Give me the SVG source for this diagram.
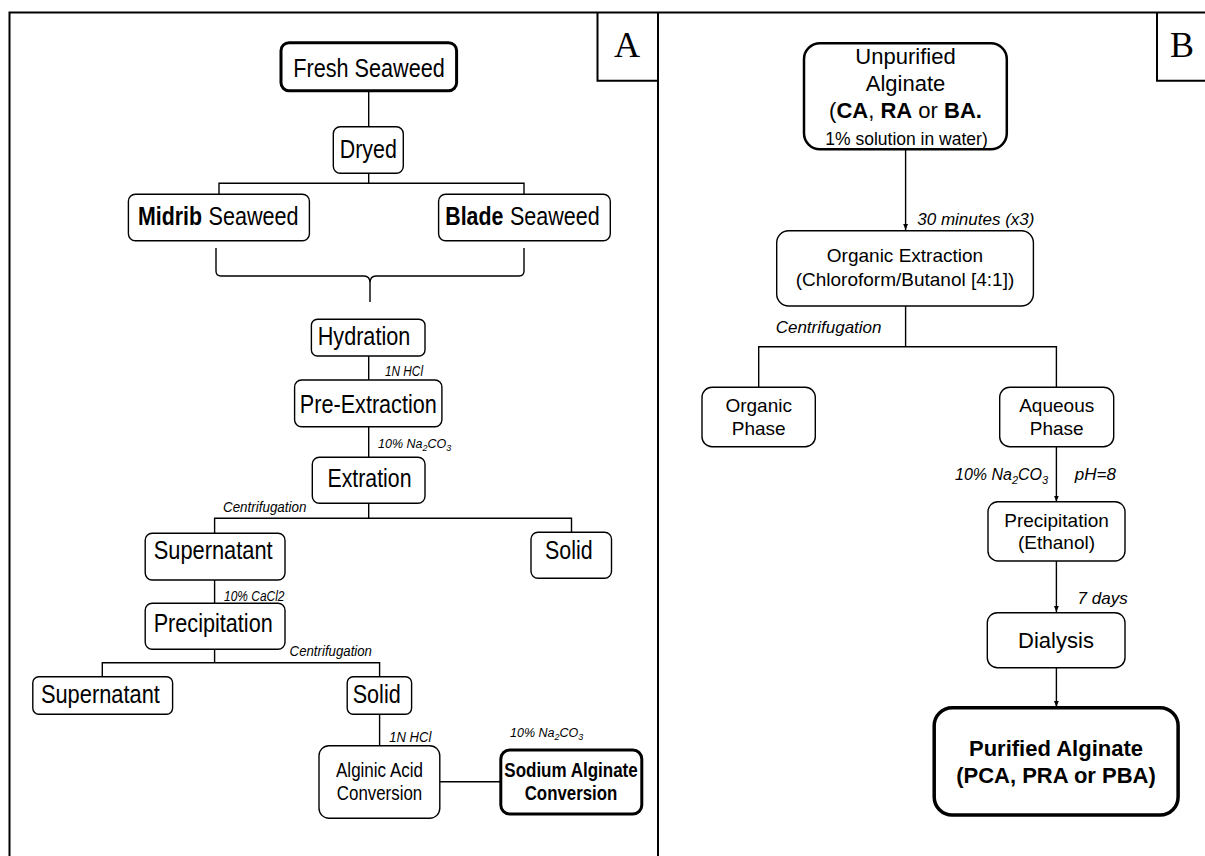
<svg xmlns="http://www.w3.org/2000/svg" width="1205" height="856" viewBox="0 0 1205 856">
<defs>
<marker id="arr" viewBox="0 0 10 10" refX="10" refY="5" markerWidth="6" markerHeight="6" markerUnits="userSpaceOnUse" orient="auto"><path d="M0,1 L10,5 L0,9 z" fill="#000"/></marker>
</defs>
<style>
.box{fill:#fff;stroke:#000;stroke-width:1.4}
.thick{stroke-width:3}
.ln{fill:none;stroke:#000;stroke-width:1.4}
.frame{fill:none;stroke:#000;stroke-width:2}
.ta{font-family:"Liberation Sans Narrow","Liberation Sans",Arial,sans-serif;font-size:26px;text-anchor:middle;fill:#000}
.st{text-anchor:start}
.tas{font-family:"Liberation Sans Narrow","Liberation Sans",Arial,sans-serif;font-size:20.5px;text-anchor:middle;fill:#000}
.la{font-family:"Liberation Sans Narrow","Liberation Sans",Arial,sans-serif;font-size:15px;font-style:italic;fill:#000}
.las{font-size:12.5px}
.tb{font-family:"Liberation Sans",Arial,sans-serif;font-size:19px;text-anchor:middle;fill:#000}
.big{font-size:22px}
.sm{font-size:17.5px}
.lb{font-family:"Liberation Sans",Arial,sans-serif;font-size:17px;font-style:italic;fill:#000}
.lbs{font-size:16px}
.bold{font-weight:bold}
.tag{font-family:"Liberation Serif","Times New Roman",serif;font-size:36px;text-anchor:middle;fill:#000}
</style>
<rect width="1205" height="856" fill="#fff"/>
<g id="frame">
<path class="frame" d="M9.5,856 V12.5 H1205"/>
<path class="frame" d="M658,12.5 V856"/>
<path class="frame" d="M597.5,12.5 V80.7 H658"/>
<path class="frame" d="M1157,12.5 V80.7 H1205"/>
<text class="tag" x="627" y="57">A</text>
<text class="tag" x="1182" y="57">B</text>
</g>
<g id="connectors">
<path class="ln" d="M368.7,90.7 V126.7"/>
<path class="ln" d="M368.7,173.3 V183.3 M219,194.3 V183.3 H524 V194.3"/>
<path class="ln" d="M216,248 V271 Q216,276 221,276 H364 Q370,276 370,283 Q370,276 376,276 H519 Q524,276 524,271 V248 M370,283 V302"/>
<path class="ln" d="M368.7,356 V380"/>
<path class="ln" d="M368.7,426.7 V457.3"/>
<path class="ln" d="M368.7,503.3 V518.3 M214.6,533.3 V518.3 H571.5 V532.3"/>
<path class="ln" d="M214.6,580 V603.3"/>
<path class="ln" d="M214.6,649.3 V662.7 M102.3,676.7 V662.7 H379.6 V676.7"/>
<path class="ln" d="M379.6,714.3 V745.7"/>
<path class="ln" d="M439.8,781.7 H500.8"/>
<path class="ln" d="M905.6,149.3 V230" marker-end="url(#arr)"/>
<path class="ln" d="M905.6,306 V346.7 M758.7,387.3 V346.7 H1056.4 V387.3"/>
<path class="ln" d="M1056.4,446.7 V501.7" marker-end="url(#arr)"/>
<path class="ln" d="M1056.4,561 V612" marker-end="url(#arr)"/>
<path class="ln" d="M1056.4,667.7 V707" marker-end="url(#arr)"/>
</g>
<g id="labels">
<text class="la" x="385" y="376" textLength="38" lengthAdjust="spacingAndGlyphs">1N HCl</text>
<text class="la las" x="378" y="448">10% Na<tspan font-size="9" dy="3">2</tspan><tspan dy="-3">CO</tspan><tspan font-size="9" dy="3">3</tspan></text>
<text class="la" x="223" y="511.7" textLength="83.4" lengthAdjust="spacingAndGlyphs">Centrifugation</text>
<text class="la" x="224" y="600.7" textLength="60.5" lengthAdjust="spacingAndGlyphs">10% CaCl2</text>
<text class="la" x="289.6" y="656" textLength="82.4" lengthAdjust="spacingAndGlyphs">Centrifugation</text>
<text class="la" x="389.3" y="741.7" textLength="42" lengthAdjust="spacingAndGlyphs">1N HCl</text>
<text class="la las" x="510" y="736.7">10% Na<tspan font-size="9" dy="3">2</tspan><tspan dy="-3">CO</tspan><tspan font-size="9" dy="3">3</tspan></text>
<text class="lb" x="917.3" y="225">30 minutes (x3)</text>
<text class="lb" x="775.7" y="333.3">Centrifugation</text>
<text class="lb lbs" x="955" y="480">10% Na<tspan font-size="11" dy="4">2</tspan><tspan dy="-4">CO</tspan><tspan font-size="11" dy="4">3</tspan></text>
<text class="lb" x="1074.8" y="480">pH=8</text>
<text class="lb" x="1077.6" y="604">7 days</text>
</g>
<g id="n-fresh"><rect class="box thick" x="281" y="42.7" width="175.6" height="48" rx="8"/><text class="ta" x="369" y="77" textLength="151.5" lengthAdjust="spacingAndGlyphs">Fresh Seaweed</text></g>
<g id="n-dryed"><rect class="box" x="333.3" y="126.7" width="70" height="46.6" rx="7"/><text class="ta" x="368.3" y="158" textLength="57" lengthAdjust="spacingAndGlyphs">Dryed</text></g>
<g id="n-midrib"><rect class="box" x="128.4" y="194.3" width="181" height="46.4" rx="7"/><text class="ta st bold" x="138" y="225" textLength="64" lengthAdjust="spacingAndGlyphs">Midrib</text><text class="ta st" x="208.5" y="225" textLength="90" lengthAdjust="spacingAndGlyphs">Seaweed</text></g>
<g id="n-blade"><rect class="box" x="438.6" y="194.3" width="171.7" height="46.4" rx="7"/><text class="ta st bold" x="445.3" y="225" textLength="58" lengthAdjust="spacingAndGlyphs">Blade</text><text class="ta st" x="510" y="225" textLength="89.7" lengthAdjust="spacingAndGlyphs">Seaweed</text></g>
<g id="n-hydration"><rect class="box" x="311.4" y="319.3" width="113.6" height="36.7" rx="6"/><text class="ta" x="364" y="345" textLength="92.6" lengthAdjust="spacingAndGlyphs">Hydration</text></g>
<g id="n-preext"><rect class="box" x="294.6" y="380" width="147.3" height="46.7" rx="7"/><text class="ta" x="368.3" y="413.3" textLength="137" lengthAdjust="spacingAndGlyphs">Pre-Extraction</text></g>
<g id="n-extration"><rect class="box" x="312.3" y="457.3" width="112.7" height="46" rx="7"/><text class="ta" x="369.5" y="486.7" textLength="84" lengthAdjust="spacingAndGlyphs">Extration</text></g>
<g id="n-super1"><rect class="box" x="145.2" y="533.3" width="139.8" height="46.7" rx="7"/><text class="ta" x="213.2" y="559.3" textLength="119" lengthAdjust="spacingAndGlyphs">Supernatant</text></g>
<g id="n-solid1"><rect class="box" x="531" y="532.3" width="80.5" height="46" rx="7"/><text class="ta" x="568.8" y="559" textLength="47.6" lengthAdjust="spacingAndGlyphs">Solid</text></g>
<g id="n-precip"><rect class="box" x="145.2" y="603.3" width="139.8" height="46" rx="7"/><text class="ta" x="213.2" y="631.7" textLength="119" lengthAdjust="spacingAndGlyphs">Precipitation</text></g>
<g id="n-super2"><rect class="box" x="32.8" y="676.7" width="139.8" height="37.6" rx="6"/><text class="ta" x="100.4" y="702.7" textLength="119" lengthAdjust="spacingAndGlyphs">Supernatant</text></g>
<g id="n-solid2"><rect class="box" x="347.2" y="676.7" width="64.4" height="37.6" rx="6"/><text class="ta" x="376.7" y="702.7" textLength="48" lengthAdjust="spacingAndGlyphs">Solid</text></g>
<g id="n-alginic"><rect class="box" x="319" y="745.7" width="120.8" height="72.6" rx="10"/><text class="tas" x="379.5" y="776.7" textLength="87" lengthAdjust="spacingAndGlyphs">Alginic Acid</text><text class="tas" x="379.5" y="800" textLength="85.4" lengthAdjust="spacingAndGlyphs">Conversion</text></g>
<g id="n-sodium"><rect class="box thick" x="500.8" y="750" width="141" height="64" rx="9"/><text class="tas bold" x="571" y="776.7" textLength="133.4" lengthAdjust="spacingAndGlyphs">Sodium Alginate</text><text class="tas bold" x="571" y="800" textLength="92.6" lengthAdjust="spacingAndGlyphs">Conversion</text></g>
<g id="n-unpurified"><rect class="box" style="stroke-width:2.5" x="804" y="43.3" width="202.8" height="106" rx="16"/><text class="tb big" x="905.5" y="64">Unpurified</text><text class="tb big" x="905.5" y="90.7">Alginate</text><text class="tb big" x="905.5" y="118.3">(<tspan class="bold">CA</tspan>, <tspan class="bold">RA</tspan> or <tspan class="bold">BA.</tspan></text><text class="tb sm" x="906.5" y="145">1% solution in water)</text></g>
<g id="n-orgext"><rect class="box" x="776.7" y="230.7" width="256.7" height="75.3" rx="12"/><text class="tb" x="905" y="261.7">Organic Extraction</text><text class="tb" x="905" y="286">(Chloroform/Butanol [4:1])</text></g>
<g id="n-orgphase"><rect class="box" x="702" y="387.3" width="113.3" height="59.4" rx="10"/><text class="tb" x="758.7" y="411.7">Organic</text><text class="tb" x="758.7" y="435">Phase</text></g>
<g id="n-aqphase"><rect class="box" x="999.7" y="387.3" width="114" height="59.4" rx="10"/><text class="tb" x="1056.7" y="411.7">Aqueous</text><text class="tb" x="1056.7" y="435">Phase</text></g>
<g id="n-precipB"><rect class="box" x="988" y="501.7" width="137" height="59.3" rx="10"/><text class="tb" x="1056.5" y="526.7">Precipitation</text><text class="tb" x="1056.5" y="549.3">(Ethanol)</text></g>
<g id="n-dialysis"><rect class="box" x="987.3" y="612.7" width="137.7" height="55" rx="10"/><text class="tb big" x="1056" y="648.3">Dialysis</text></g>
<g id="n-purified"><rect class="box" style="stroke-width:3.5" x="934.2" y="707.7" width="243.9" height="107.3" rx="18"/><text class="tb bold big" x="1056" y="756">Purified Alginate</text><text class="tb bold big" x="1056" y="782.7">(PCA, PRA or PBA)</text></g>
</svg>
